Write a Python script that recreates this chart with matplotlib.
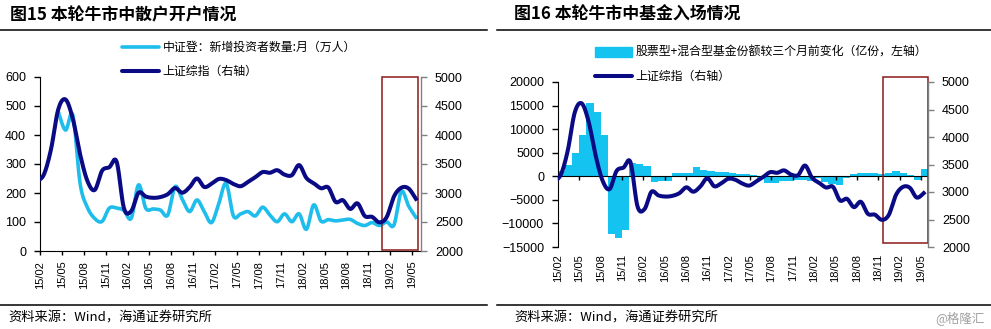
import numpy as np
import matplotlib
matplotlib.use("Agg")
import matplotlib.pyplot as plt
from matplotlib.patches import Rectangle
from matplotlib.lines import Line2D

plt.rcParams['font.family'] = ['Liberation Sans', 'Noto Sans CJK SC', 'DejaVu Sans']
CJK = ['Noto Sans CJK SC', 'DejaVu Sans']

# x axis labels, one every three months from 2015/02
tick_labels = ['15/02', '15/05', '15/08', '15/11', '16/02', '16/05', '16/08',
               '16/11', '17/02', '17/05', '17/08', '17/11', '18/02', '18/05',
               '18/08', '18/11', '19/02', '19/05']

# Shanghai Composite, month-end close, 2015/01 - 2019/06
sh_close = [3210, 3310, 3748, 4441, 4612, 4277, 3664, 3206, 3053, 3383, 3445, 3539,
            2738, 2688, 3004, 2938, 2917, 2930, 2979, 3085, 3005, 3100, 3250, 3104,
            3159, 3242, 3223, 3155, 3117, 3192, 3273, 3361, 3349, 3393, 3317, 3307,
            3481, 3259, 3169, 3082, 3095, 2847, 2876, 2725, 2821, 2603, 2588, 2494,
            2585, 2941, 3091, 3078, 2899, 2979]

# CSDC new investors per month (10k people), 2015/04 - 2019/05
new_investors = [480, 417, 468, 232, 150, 112, 102, 148, 148, 140, 113, 228,
                 147, 145, 141, 124, 222, 178, 136, 176, 136, 98, 164, 233,
                 121, 128, 136, 121, 151, 124, 101, 128, 101, 128, 75, 159,
                 103, 108, 104, 107, 109, 95, 88, 98, 88, 100, 90, 205,
                 155, 116]

# equity + hybrid fund units, change vs three months earlier (100m units), monthly
fund_change = [1200, 2500, 5000, 8700, 15500, 13600, 8800, -12300, -13100, -11300,
               2800, 2700, 2100, -1200, -1100, -900, 600, 700, 800, 1900,
               1400, 1200, 1000, 900, 600, 500, 400, 200, -600, -1400,
               -1500, -1000, -900, -800, -700, -900, -300, -1200, -1600, -1900,
               -300, 500, 700, 600, 700, 500, 600, 1100, 600, 300,
               -700, 1500]

LIGHT = '#1FBDEB'
BAR = '#14C3F0'
NAVY = '#0A0A85'
BOX = '#8B1A1A'
GREY = '#808080'


def smooth(x, y, n=16):
    """Excel-style smoothed line: cubic Bezier pieces through every point."""
    x = np.asarray(x, float)
    y = np.asarray(y, float)
    px = np.concatenate([[x[0]], x, [x[-1]]])
    py = np.concatenate([[y[0]], y, [y[-1]]])
    t = np.linspace(0, 1, n, endpoint=False)[:, None]
    xs, ys = [], []
    for k in range(len(x) - 1):
        p0 = np.array([px[k], py[k]])
        p1 = np.array([px[k + 1], py[k + 1]])
        p2 = np.array([px[k + 2], py[k + 2]])
        p3 = np.array([px[k + 3], py[k + 3]])
        c1 = p1 + (p2 - p0) / 6
        c2 = p2 - (p3 - p1) / 6
        pts = ((1 - t) ** 3 * p1 + 3 * (1 - t) ** 2 * t * c1
               + 3 * (1 - t) * t ** 2 * c2 + t ** 3 * p2)
        xs.append(pts[:, 0])
        ys.append(pts[:, 1])
    xs.append([x[-1]])
    ys.append([y[-1]])
    return np.concatenate(xs), np.concatenate(ys)


def style_axes(ax, axr, ylim, yticks, xmax):
    ax.set_xlim(0, xmax)
    ax.set_ylim(*ylim)
    ax.set_yticks(yticks)
    ax.set_xticks(np.arange(0, 3 * len(tick_labels), 3))
    ax.set_xticklabels(tick_labels)
    ax.tick_params(axis='y', direction='out', length=4, width=1, pad=6,
                   labelsize=9, color='black')
    ax.tick_params(axis='x', direction='out', length=3, width=1, labelsize=8,
                   labelrotation=90)
    ax.spines['top'].set_visible(False)
    ax.spines['right'].set_visible(False)
    axr.set_ylim(2000, 5000)
    axr.set_yticks(np.arange(2000, 5001, 500))
    axr.tick_params(axis='y', direction='out', length=4, width=1, pad=6,
                    labelsize=9, color=GREY)
    for side in ['top', 'left', 'bottom']:
        axr.spines[side].set_visible(False)
    axr.spines['right'].set_color(GREY)
    axr.spines['right'].set_linewidth(1)


fig = plt.figure(figsize=(9.91, 3.29), dpi=100)

# left panel: retail account openings
ax1 = fig.add_axes([40 / 991, 78 / 329, 381 / 991, 174 / 329])
ax1r = ax1.twinx()
style_axes(ax1, ax1r, (0, 600), np.arange(0, 601, 100), 52.2)
ax1.tick_params(axis='x', pad=4)

lx, ly = smooth(np.arange(3, 3 + len(new_investors)) - 0.5, new_investors)
ax1.plot(lx, ly, color=LIGHT, lw=2.6, solid_joinstyle='round')
dx, dy = smooth(np.arange(53) - 0.5, sh_close[:53])
ax1r.plot(dx, dy, color=NAVY, lw=2.9, solid_joinstyle='round')
ax1.add_patch(Rectangle((46.85, 3), 4.95, 597, fill=False, ec=BOX, lw=1.1,
                        clip_on=False, zorder=5))

# right panel: fund inflows, category axis drawn on the zero line
ax2 = fig.add_axes([558 / 991, 82 / 329, 370 / 991, 165 / 329])
ax2r = ax2.twinx()
style_axes(ax2, ax2r, (-15000, 20000), np.arange(-15000, 20001, 5000), 52)
ax2.spines['bottom'].set_position(('data', 0))
ax2.tick_params(axis='x', direction='out', length=3, width=1, labelsize=8,
                labelrotation=90, pad=53)

ax2.bar(np.arange(len(fund_change)) + 0.5, fund_change, width=1.0, color=BAR,
        linewidth=0)
rx, ry = smooth(np.linspace(-0.6, 51.4, len(sh_close)), sh_close)
ax2r.plot(rx, ry, color=NAVY, lw=2.9, solid_joinstyle='round')
ax2.add_patch(Rectangle((45.7, -14200), 6.3, 35200, fill=False, ec=BOX, lw=1.1,
                        clip_on=False, zorder=5))

# titles and rules
fig.text(10 / 991, 1 - 15 / 329, '图15 本轮牛市中散户开户情况', family=CJK,
         fontsize=12.2, fontweight='bold', va='center', ha='left')
fig.text(514 / 991, 1 - 15 / 329, '图16 本轮牛市中基金入场情况', family=CJK,
         fontsize=12.2, fontweight='bold', va='center', ha='left')
for x0, x1 in [(0, 487), (497, 991)]:
    fig.add_artist(Line2D([x0 / 991, x1 / 991], [1 - 30 / 329] * 2,
                          color='black', lw=1.1))
    fig.add_artist(Line2D([x0 / 991, x1 / 991], [1 - 305 / 329] * 2,
                          color='black', lw=1.1))

# legends
h_light = Line2D([], [], color=LIGHT, lw=2.6, solid_capstyle='round')
h_navy = Line2D([], [], color=NAVY, lw=2.9, solid_capstyle='round')
h_bar = Rectangle((0, 0), 1, 1, color=BAR)
leg_kw = dict(frameon=False, prop={'family': CJK, 'size': 8.6}, handlelength=3.1,
              handletextpad=0.3, labelspacing=0.95, borderpad=0, borderaxespad=0,
              loc='upper left')
fig.legend([h_light, h_navy], ['中证登：新增投资者数量:月（万人）', '上证综指（右轴）'],
           bbox_to_anchor=(122 / 991, 1 - 41 / 329), **leg_kw)
fig.legend([h_bar, h_navy], ['股票型+混合型基金份额较三个月前变化（亿份，左轴）', '上证综指（右轴）'],
           bbox_to_anchor=(595 / 991, 1 - 46 / 329), handleheight=1.0, **leg_kw)

# sources
fig.text(8 / 991, 1 - 318 / 329, '资料来源：Wind，海通证券研究所', family=CJK,
         fontsize=9.5, va='center', ha='left')
fig.text(514 / 991, 1 - 318 / 329, '资料来源：Wind，海通证券研究所', family=CJK,
         fontsize=9.5, va='center', ha='left')
fig.text(985 / 991, 1 - 318 / 329, '@格隆汇', family=CJK, fontsize=9,
         color='#A0A0A0', va='center', ha='right')

fig.savefig('out.png', dpi=100)
